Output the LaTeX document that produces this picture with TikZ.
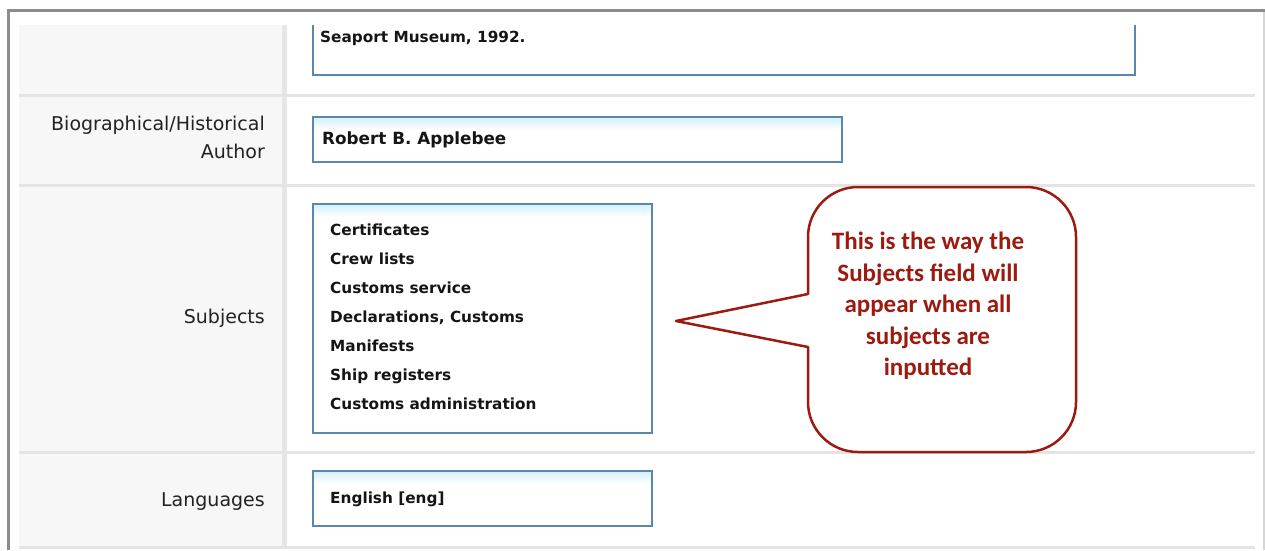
\documentclass[tikz,border=0pt]{standalone}
\usepackage{fontspec}
\setmainfont{DejaVu Sans}
\newfontfamily\callfont{Carlito}
\definecolor{framegray}{HTML}{8C8C8C}
\definecolor{framelight}{HTML}{D6D6D6}
\definecolor{labelbg}{HTML}{F7F7F7}
\definecolor{rowline}{HTML}{E4E4E4}
\definecolor{coldiv}{HTML}{E6E6E6}
\definecolor{fieldblue}{HTML}{5A87AE}
\definecolor{glow}{HTML}{D6F2FC}
\definecolor{callred}{HTML}{9C1B10}
\definecolor{txt}{HTML}{151515}
\definecolor{labeltxt}{HTML}{222222}
\begin{document}
\begin{tikzpicture}[x=1pt,y=-1pt,
  field/.style={draw=fieldblue, line width=2pt},
  fieldtxt/.style={anchor=west, inner sep=0pt, font=\fontsize{15.3}{18}\selectfont\bfseries, text=txt, text height=11pt, text depth=3pt},
  lbl/.style={anchor=east, inner sep=0pt, font=\fontsize{19}{22}\selectfont, text=labeltxt, text height=14pt, text depth=4pt},
  rowsep/.style={draw=rowline, line width=3pt},
  callout/.style={draw=callred, line width=2.5pt, fill=white, line join=round},
  calltxt/.style={align=center, inner sep=0pt, text=callred, font=\callfont\bfseries\fontsize{25}{31.5}\selectfont}
]
\useasboundingbox (0,0) rectangle (1265,550);
\fill[white] (0,0) rectangle (1265,550);
% label column and divider
\fill[labelbg] (19,25) rectangle (282,548);
\draw[coldiv, line width=5pt] (284.5,25) -- (284.5,548);
% row separators
\draw[rowsep] (19,95) -- (1255,95);
\draw[rowsep] (19,185) -- (1255,185);
\draw[rowsep] (19,452) -- (1255,452);
\draw[rowsep] (19,547) -- (1255,547);
% outer frame
\draw[framelight, line width=1.5pt] (1264,10) -- (1264,550);
\draw[framegray, line width=3pt] (8,550) -- (8,10) -- (1265,10);

% row 1: note field (cut off at top)
\draw[field] (313,25) -- (313,75) -- (1135,75) -- (1135,25);
\node[fieldtxt] (seaport) at (320,38) {Seaport Museum, 1992.};

% row 2: author
\node[lbl] (biolbl) at (265,125) {Biographical/Historical};
\node[lbl] (authlbl) at (265,153) {Author};
\shade[top color=glow, bottom color=white] (314,118) rectangle (841,130);
\draw[field] (313,117) rectangle (842,162);
\node[fieldtxt, font=\fontsize{16.8}{19}\selectfont\bfseries, text height=12pt] (author) at (322,140) {Robert B. Applebee};

% row 3: subjects
\node[lbl] (subjlbl) at (265,318) {Subjects};
\shade[top color=glow, bottom color=white] (314,205) rectangle (651,217);
\draw[field] (313,204) rectangle (652,433);
\node[fieldtxt] (s1) at (330,231) {Certificates};
\node[fieldtxt] (s2) at (330,260) {Crew lists};
\node[fieldtxt] (s3) at (330,289) {Customs service};
\node[fieldtxt] (s4) at (330,318) {Declarations, Customs};
\node[fieldtxt] (s5) at (330,347) {Manifests};
\node[fieldtxt] (s6) at (330,376) {Ship registers};
\node[fieldtxt] (s7) at (330,405) {Customs administration};

% row 4: languages
\node[lbl] (langlbl) at (265,501) {Languages};
\shade[top color=glow, bottom color=white] (314,472) rectangle (651,484);
\draw[field] (313,471) rectangle (652,526);
\node[fieldtxt] (lang) at (330,499) {English [eng]};

% callout
\draw[callout] (808,294) -- (808,237)
  arc[start angle=180, end angle=90, radius=50pt] -- (1026,187)
  arc[start angle=90, end angle=0, radius=50pt] -- (1076,402)
  arc[start angle=0, end angle=-90, radius=50pt] -- (858,452)
  arc[start angle=-90, end angle=-180, radius=50pt] -- (808,347)
  -- (676,321) -- cycle;
\node[calltxt] (note) at (928,306) {This is the way the\\Subjects field will\\appear when all\\subjects are\\inputted};
\end{tikzpicture}
\end{document}
